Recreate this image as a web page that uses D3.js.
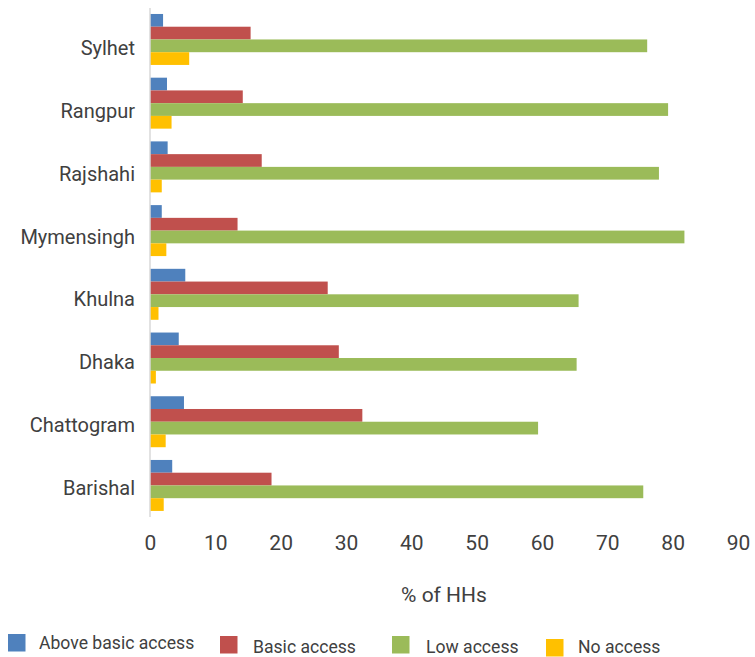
<!DOCTYPE html>
<html>
<head>
<meta charset="utf-8">
<script src="https://cdn.jsdelivr.net/npm/d3@7"></script>
<style>
  html, body { margin: 0; padding: 0; background: #ffffff; }
  svg { display: block; font-family: Roboto, "Noto Sans", sans-serif; }
</style>
</head>
<body>
<svg id="chart" width="755" height="657"></svg>
<script>
// ---- data ----
const categories = ["Sylhet", "Rangpur", "Rajshahi", "Mymensingh", "Khulna", "Dhaka", "Chattogram", "Barishal"];
const seriesNames = ["Above basic access", "Basic access", "Low access", "No access"];
const aboveBasic = [2.0, 2.6, 2.7, 1.8, 5.4, 4.4, 5.2, 3.4];
const basic      = [15.4, 14.2, 17.1, 13.4, 27.2, 28.9, 32.5, 18.6];
const low        = [76.1, 79.3, 77.9, 81.8, 65.6, 65.3, 59.4, 75.5];
const noAccess   = [6.0, 3.3, 1.8, 2.5, 1.3, 0.9, 2.4, 2.1];
const xTicks = [0, 10, 20, 30, 40, 50, 60, 70, 80, 90];
const xTitle = "% of HHs";

const seriesValues = [aboveBasic, basic, low, noAccess];
const colors = ["#4f81bd", "#c0504d", "#9bbb59", "#ffc000"];

// ---- layout ----
const svg = d3.select("#chart");
const x = d3.scaleLinear().domain([0, 90]).range([150, 738]);
const y = d3.scaleBand().domain(categories).range([7.6, 517.3]).paddingInner(0.2).paddingOuter(0.1);
const ySub = d3.scaleBand().domain(seriesNames).range([0, y.bandwidth()]);
const labelY = d3.scalePoint().domain(categories).range([55, 495]);
const textColor = "#404040";

// bars
const rows = [];
categories.forEach((c, i) => {
  seriesNames.forEach((s, j) => {
    rows.push({ cat: c, series: s, value: seriesValues[j][i], color: colors[j] });
  });
});
svg.append("g").selectAll("rect").data(rows).join("rect")
  .attr("x", x(0))
  .attr("y", d => y(d.cat) + ySub(d.series))
  .attr("width", d => x(d.value) - x(0))
  .attr("height", ySub.bandwidth())
  .attr("fill", d => d.color);

// vertical axis line
svg.append("line")
  .attr("x1", x(0)).attr("x2", x(0))
  .attr("y1", 8).attr("y2", 517)
  .attr("stroke", "#d9d9d9").attr("stroke-width", 1.5);

// category labels
svg.append("g").selectAll("text").data(categories).join("text")
  .attr("x", 135)
  .attr("y", d => labelY(d))
  .attr("text-anchor", "end")
  .attr("font-size", 20)
  .attr("fill", textColor)
  .text(d => d);

// x axis tick labels
const xAxis = d3.axisBottom(x).tickValues(xTicks).tickSize(0).tickPadding(0).tickFormat(d3.format("d"));
const gx = svg.append("g").attr("transform", "translate(0,531)").call(xAxis);
gx.select(".domain").remove();
gx.selectAll("text")
  .attr("font-size", 21)
  .attr("font-family", "Roboto, sans-serif")
  .attr("fill", textColor)
  .attr("dy", "0.9em");

// x title
svg.append("text")
  .attr("x", 444).attr("y", 601.5)
  .attr("text-anchor", "middle")
  .attr("font-size", 21)
  .attr("fill", textColor)
  .text(xTitle);

// legend
const legendLayout = [
  { sx: 8, sy: 634, tx: 39, ty: 649 },
  { sx: 220, sy: 636, tx: 253, ty: 653 },
  { sx: 392, sy: 636, tx: 426, ty: 653 },
  { sx: 546, sy: 639, tx: 578, ty: 653 }
];
const lg = svg.append("g").selectAll("g").data(seriesNames).join("g");
lg.append("rect")
  .attr("x", (d, i) => legendLayout[i].sx)
  .attr("y", (d, i) => legendLayout[i].sy)
  .attr("width", 17.5).attr("height", 17.5)
  .attr("fill", (d, i) => colors[i]);
lg.append("text")
  .attr("x", (d, i) => legendLayout[i].tx)
  .attr("y", (d, i) => legendLayout[i].ty)
  .attr("font-size", 17.6)
  .attr("fill", textColor)
  .text(d => d);
</script>
</body>
</html>
